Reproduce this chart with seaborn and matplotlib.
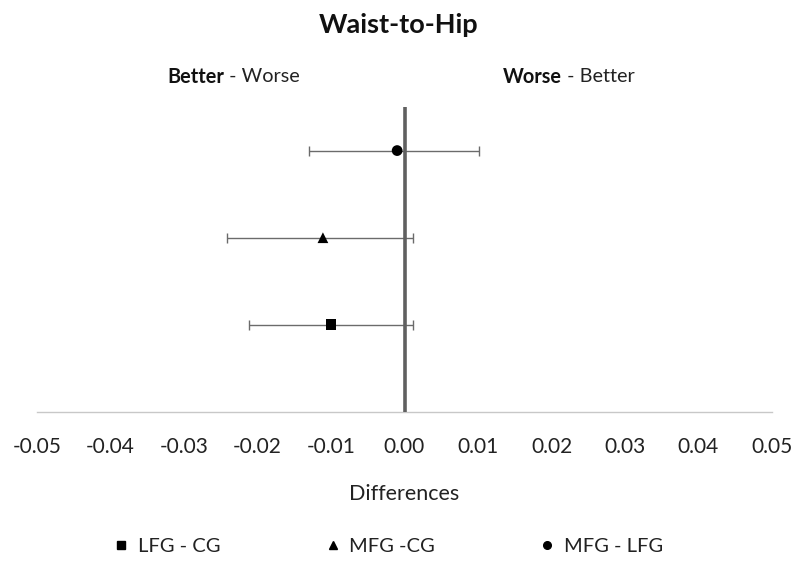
import matplotlib
matplotlib.use("Agg")
import matplotlib.pyplot as plt
import seaborn as sns
import pandas as pd
from matplotlib.lines import Line2D

# ---- data ----
comparisons = ["LFG - CG", "MFG -CG", "MFG - LFG"]
means = [-0.0100, -0.0111, -0.0010]
lower = [-0.0212, -0.0241, -0.0130]
upper = [0.0011, 0.0011, 0.0101]
rows = [1, 2, 3]
markers = {"LFG - CG": "s", "MFG -CG": "^", "MFG - LFG": "o"}
xticks = [-0.05, -0.04, -0.03, -0.02, -0.01, 0.00, 0.01, 0.02, 0.03, 0.04, 0.05]

df = pd.DataFrame({"comparison": comparisons, "diff": means, "row": rows,
                   "lo": lower, "hi": upper})

sns.set_theme(style="white")
plt.rcParams["font.family"] = ["Lato", "DejaVu Sans"]

W, H = 798, 561
fig = plt.figure(figsize=(W / 100, H / 100), dpi=100)
ax = fig.add_axes([37 / W, 1 - 412 / H, (772 - 37) / W, (412 - 107) / H])

# error bars
ax.errorbar(df["diff"], df["row"],
            xerr=[df["diff"] - df["lo"], df["hi"] - df["diff"]],
            fmt="none", ecolor="#6b6b6b", elinewidth=1.0, capsize=3.5,
            capthick=1.0, zorder=2)
# zero line
ax.axvline(0, color="#606060", lw=2.6, zorder=3)

sns.scatterplot(data=df, x="diff", y="row", style="comparison",
                markers=markers, style_order=comparisons, color="black",
                s=60, edgecolor="black", linewidth=0, ax=ax, zorder=4,
                legend=False)

ax.set_xlim(-0.05, 0.05)
ax.set_ylim(0, 3.5)
ax.set_xticks(xticks)
ax.set_xticklabels([f"{v:.2f}" for v in xticks], fontsize=15, color="#222222")
ax.tick_params(axis="x", length=0, pad=18)
ax.set_yticks([])
ax.set_xlabel("")
ax.set_ylabel("")
for s in ["top", "left", "right"]:
    ax.spines[s].set_visible(False)
ax.spines["bottom"].set_color("#c8c8c8")
ax.spines["bottom"].set_linewidth(1.0)

# titles and labels
fig.text(0.5, 1 - 25 / H, "Waist-to-Hip", ha="center", va="center",
         fontsize=19.5, fontweight="bold", color="#111111")
fig.text(404 / W, 1 - 494 / H, "Differences", ha="center", va="center",
         fontsize=15.5, color="#222222")

fig.canvas.draw()
r = fig.canvas.get_renderer()


def two_part(x0, y, bold, rest):
    t1 = fig.text(x0 / W, 1 - y / H, bold, ha="left", va="center",
                  fontsize=14.3, fontweight="bold", color="#111111")
    bb = t1.get_window_extent(renderer=r)
    fig.text(bb.x1 / W, 1 - y / H, rest, ha="left", va="center",
             fontsize=14.3, color="#222222")


two_part(167, 77, "Better", " - Worse")
two_part(503, 77, "Worse", " - Better")

# legend
handles = [Line2D([], [], marker=markers[c], color="black", linestyle="none",
                  markersize=5.5) for c in comparisons]
fig.legend(handles, comparisons, loc="center", bbox_to_anchor=(388 / W, 1 - 546 / H),
           ncol=3, frameon=False, fontsize=14.5, columnspacing=5.2,
           handletextpad=0.4, handlelength=0.8, labelcolor="#222222")

fig.savefig("out.png", dpi=100)
